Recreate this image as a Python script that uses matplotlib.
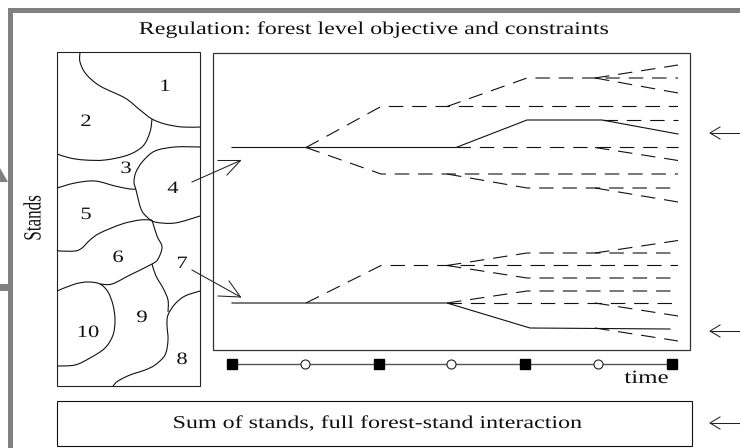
import matplotlib
matplotlib.use("Agg")
import matplotlib.pyplot as plt
from matplotlib.path import Path
from matplotlib.patches import PathPatch, Rectangle, Polygon
from matplotlib.patheffects import AbstractPathEffect
from matplotlib.transforms import Affine2D

plt.rcParams['font.family'] = ['Liberation Serif', 'DejaVu Serif']

# everything in pixel coordinates
title = "Regulation: forest level objective and constraints"
bottom_label = "Sum of stands, full forest-stand interaction"
stand_ids = ["1", "2", "3", "4", "5", "6", "7", "8", "9", "10"]
stand_x = [165, 86, 126, 173, 86, 118, 182, 182, 142, 88]
stand_y = [87, 122, 169, 189, 215, 258, 264, 360, 318, 333]

# borders between the stands
borders = [
    [(80, 52), (80, 62), (86, 74), (100, 86), (125, 98), (140, 110), (152, 119), (165, 124), (182, 127), (200, 127)],
    [(152, 119), (150, 132), (143, 146), (128, 155), (105, 160), (85, 160), (70, 158), (57, 154)],
    [(200, 147), (175, 147), (155, 151), (143, 161), (136, 172), (134, 182), (136, 190), (141, 209), (147, 217), (155, 222), (175, 223), (200, 216)],
    [(57, 188), (75, 183), (95, 181), (115, 186), (130, 189), (136, 189)],
    [(152, 220), (140, 220), (122, 224), (100, 233), (90, 240), (82, 248), (75, 251), (60, 251), (57, 250)],
    [(152, 220), (157, 236), (162, 247), (158, 259), (152, 264), (130, 275), (112, 284), (100, 284)],
    [(57, 291), (75, 284), (88, 282), (100, 284), (108, 292), (113, 305), (115, 320), (113, 335), (105, 348), (90, 358), (75, 365), (57, 366)],
    [(152, 264), (156, 276), (163, 288), (168, 300), (168, 312)],
    [(200, 291), (185, 296), (175, 304), (168, 315), (167, 325), (168, 340), (165, 355), (155, 365), (145, 370), (130, 375), (118, 381), (113, 386)],
]

# decision tree branches
solid_branches = [
    [(232, 147.5), (456, 147.5), (527, 120), (602, 120), (678, 134)],
    [(232, 303), (447, 303), (530, 328), (670, 329)],
]
dashed_branches = [
    [(306, 147.5), (381, 106.5), (678, 106.5)],
    [(306, 147.5), (381, 174), (678, 174)],
    [(447, 106.5), (527, 78), (678, 78)],
    [(595, 78), (678, 65)],
    [(595, 78), (678, 93)],
    [(603, 120), (678, 120)],
    [(456, 147.5), (678, 147.5)],
    [(595, 147.5), (678, 160.5)],
    [(447, 174), (527, 188), (678, 188)],
    [(595, 188), (678, 202)],
    [(306, 303), (381, 265.5), (678, 265.5)],
    [(447, 265.5), (527, 253), (678, 253)],
    [(447, 265.5), (527, 278), (678, 278)],
    [(595, 253), (678, 240.5)],
    [(447, 303), (527, 291), (678, 291)],
    [(447, 303), (678, 303)],
    [(595, 303), (678, 316)],
    [(595, 328), (678, 341)],
]

square_x = [232, 379, 525, 672]
circle_x = [305, 451, 598]
right_arrow_y = [133, 331, 423]


class Stretch(AbstractPathEffect):
    """The picture was resized unevenly, so the glyphs get scaled about a point."""

    def __init__(self, sx, sy, center):
        super().__init__()
        self.sx = sx
        self.sy = sy
        self.center = center

    def draw_path(self, renderer, gc, tpath, affine, rgbFace=None):
        cx, cy = self.center
        extra = Affine2D().translate(-cx, -cy).scale(self.sx, self.sy).translate(cx, cy)
        renderer.draw_path(gc, tpath, affine + extra, rgbFace)


def smooth_path(pts):
    """Catmull-Rom through the points, written as bezier segments."""
    verts = [pts[0]]
    codes = [Path.MOVETO]
    for i in range(len(pts) - 1):
        p0 = pts[max(i - 1, 0)]
        p1 = pts[i]
        p2 = pts[i + 1]
        p3 = pts[min(i + 2, len(pts) - 1)]
        c1 = (p1[0] + (p2[0] - p0[0]) / 6, p1[1] + (p2[1] - p0[1]) / 6)
        c2 = (p2[0] - (p3[0] - p1[0]) / 6, p2[1] - (p3[1] - p1[1]) / 6)
        verts += [c1, c2, p2]
        codes += [Path.CURVE4] * 3
    return Path(verts, codes)


def open_arrow(ax, start, tip, barb1, barb2):
    ax.plot([start[0], tip[0]], [start[1], tip[1]], color='#222222', lw=0.75)
    ax.plot([barb1[0], tip[0], barb2[0]], [barb1[1], tip[1], barb2[1]], color='#222222', lw=0.75)


def stretched_text(ax, x, y, s, size, sx=1.33, sy=1.0, **kw):
    center = ax.transData.transform((x, y))
    t = ax.text(x, y, s, fontsize=size, ha='center', color='#111111', **kw)
    t.set_path_effects([Stretch(sx, sy, center)])
    return t


fig = plt.figure(figsize=(7.4, 4.48), dpi=100)
ax = fig.add_axes([0, 0, 1, 1])
ax.set_xlim(0, 740)
ax.set_ylim(448, 0)
ax.axis('off')

# grey frame and the leftovers of the outer arrows
gray = '#808080'
ax.add_patch(Rectangle((8, 8), 732, 5, fc=gray, ec='none'))
ax.add_patch(Rectangle((8, 8), 5, 440, fc=gray, ec='none'))
ax.add_patch(Polygon([(0, 168), (8, 182), (0, 182)], fc=gray, ec='none'))
ax.add_patch(Rectangle((0, 284), 8, 7, fc=gray, ec='none'))

# boxes
ax.add_patch(Rectangle((57, 52), 143, 334, fc='none', ec='#222222', lw=0.8))
ax.add_patch(Rectangle((213, 53), 477, 297, fc='none', ec='#333333', lw=0.9))
ax.add_patch(Rectangle((57, 401), 635, 45, fc='none', ec='#111111', lw=0.8))

for border in borders:
    ax.add_patch(PathPatch(smooth_path(border), fc='none', ec='#111111', lw=0.8))

for branch in solid_branches:
    ax.plot(*zip(*branch), color='#111111', lw=0.8, solid_joinstyle='round')
for branch in dashed_branches:
    ax.plot(*zip(*branch), color='#111111', lw=0.8, linestyle=(0, (13, 8)))

# arrows from stands to the trees
open_arrow(ax, (192, 182), (240.5, 160.5), (218, 160.5), (227, 175))
open_arrow(ax, (192, 270), (240.5, 297), (218, 296), (229, 281))

for y in right_arrow_y:
    open_arrow(ax, (740, y), (710, y), (720, y - 6), (720, y + 6))

# time axis
ax.plot([square_x[0], square_x[-1]], [364, 364], color='#555555', lw=1.0, zorder=2)
ax.plot(square_x, [364] * len(square_x), ls='none', marker='s', ms=7.8, color='black', zorder=3)
ax.plot(circle_x, [364] * len(circle_x), ls='none', marker='o', ms=6.5, mfc='white', mec='#222222', mew=0.8, zorder=3)

# text
stretched_text(ax, 373, 34, title, 13, va='baseline')
stretched_text(ax, 376.5, 428, bottom_label, 13, va='baseline')
stretched_text(ax, 646.5, 383, "time", 13.5, va='baseline')
stretched_text(ax, 34.5, 218, "Stands", 17.8, sx=1.0, sy=0.69, rotation=90, va='center')
for s, x, y in zip(stand_ids, stand_x, stand_y):
    stretched_text(ax, x, y, s, 12.5, sx=1.3, va='center')

fig.savefig('out.png', dpi=100)
